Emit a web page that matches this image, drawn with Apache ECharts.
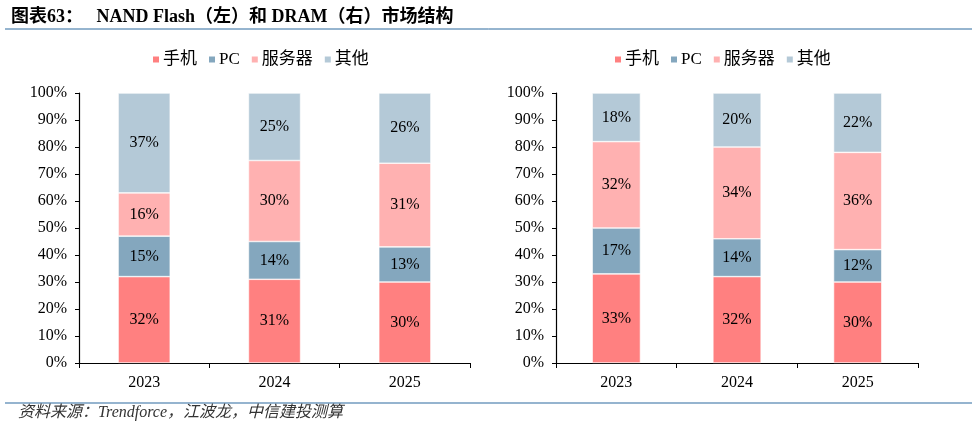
<!DOCTYPE html>
<html><head><meta charset="utf-8">
<script src="https://cdn.jsdelivr.net/npm/echarts@6/dist/echarts.min.js"></script>
<style>html,body{margin:0;padding:0;background:#fff}#c{width:976px;height:429px}</style>
</head><body><div id="c"></div>
<script>
const categories = ['2023', '2024', '2025'];
const seriesNames = ['手机', 'PC', '服务器', '其他'];
const nandPhone = [32, 31, 30];
const nandPC = [15, 14, 13];
const nandServer = [16, 30, 31];
const nandOther = [37, 25, 26];
const dramPhone = [33, 32, 30];
const dramPC = [17, 14, 12];
const dramServer = [32, 34, 36];
const dramOther = [18, 20, 22];
const yTicks = [0, 10, 20, 30, 40, 50, 60, 70, 80, 90, 100];
const colors = ['#FF8080', '#84A7BE', '#FFB1B1', '#B4C9D7'];

const serif = '"Liberation Serif","Times New Roman","Noto Sans CJK SC",serif';
const chart = echarts.init(document.getElementById('c'));

function mkSeries(dataArr, gi) {
  return dataArr.map((d, i) => ({
    name: seriesNames[i], type: 'bar', stack: 's' + gi,
    xAxisIndex: gi, yAxisIndex: gi, data: d, barWidth: '40%',
    itemStyle: { color: colors[i], borderColor: '#fff', borderWidth: 0.6 },
    label: { show: true, position: 'inside', formatter: p => p.value + '%',
      color: '#000', fontFamily: serif, fontSize: 16 },
    emphasis: { disabled: true }
  }));
}
function xAx(gi) {
  return { type: 'category', gridIndex: gi, data: categories,
    axisLine: { lineStyle: { color: '#000', width: 1.2 } },
    axisTick: { show: true, length: 5, lineStyle: { color: '#000' } },
    axisLabel: { color: '#000', fontFamily: serif, fontSize: 16, margin: 12 } };
}
function yAx(gi) {
  return { type: 'value', gridIndex: gi, min: yTicks[0], max: yTicks[yTicks.length - 1], interval: 10,
    axisLine: { show: true, lineStyle: { color: '#000', width: 1.2 } },
    axisTick: { show: true, length: 4, lineStyle: { color: '#000' } },
    splitLine: { show: false },
    axisLabel: { color: '#000', fontFamily: serif, fontSize: 16, margin: 12, formatter: v => v + '%' } };
}
function legend(left) {
  return { data: seriesNames.map((n, i) => ({ name: n, itemStyle: { color: colors[i] } })),
    left: left, top: 46, itemWidth: 8, itemHeight: 8, itemGap: 10, icon: 'rect',
    textStyle: { color: '#000', fontFamily: serif, fontSize: 17, padding: [0, 0, 0, -2] } };
}

chart.setOption({
  animation: false,
  title: { text: '图表63：   NAND Flash（左）和 DRAM（右）市场结构', left: 6, top: 3,
    textStyle: { fontFamily: serif, fontWeight: 'bold', fontSize: 18, color: '#000' } },
  legend: [legend(146), legend(608)],
  grid: [
    { left: 79, top: 93, width: 391, height: 270 },
    { left: 556, top: 93, width: 362, height: 270 }
  ],
  xAxis: [xAx(0), xAx(1)],
  yAxis: [yAx(0), yAx(1)],
  series: [
    ...mkSeries([nandPhone, nandPC, nandServer, nandOther], 0),
    ...mkSeries([dramPhone, dramPC, dramServer, dramOther], 1)
  ],
  graphic: [
    { type: 'line', shape: { x1: 5, y1: 29, x2: 972, y2: 29 }, style: { stroke: '#2D6A9F', lineWidth: 1 } },
    { type: 'line', shape: { x1: 5, y1: 403, x2: 972, y2: 403 }, style: { stroke: '#2D6A9F', lineWidth: 1.2 } },
    { type: 'text', left: 18, top: 405, style: { text: '资料来源：Trendforce，江波龙，中信建投测算',
      font: 'italic 16px ' + serif, fill: '#333' } }
  ]
});
</script></body></html>
